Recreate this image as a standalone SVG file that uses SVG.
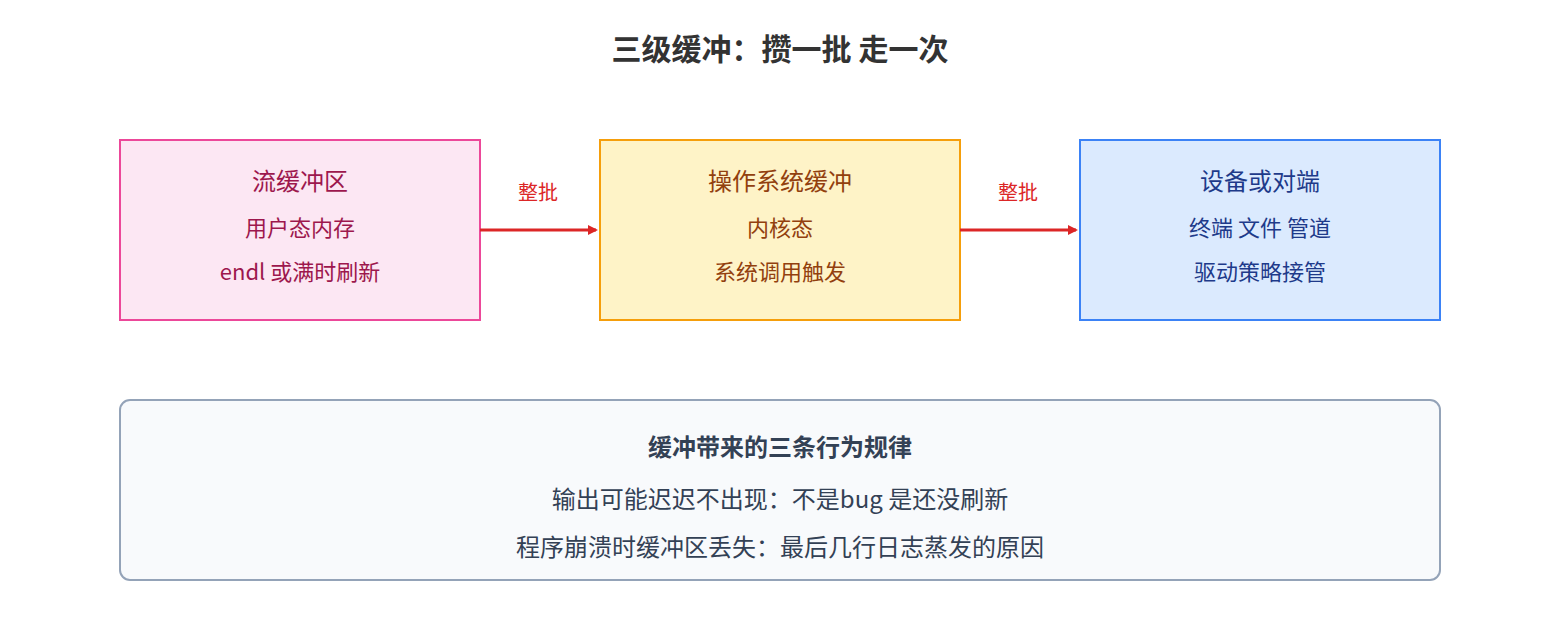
<svg xmlns="http://www.w3.org/2000/svg" width="1560" height="640" viewBox="0 0 1560 640">
<style>
text{font-family:"Noto Sans CJK SC","Noto Sans",sans-serif;text-anchor:middle}
.t{font-size:24px}.s{font-size:22px}.l{font-size:20px;fill:#dc2626}
.p text{fill:#9d174d}.y text{fill:#92400e}.b text{fill:#1e3a8a}
</style>
<defs><marker id="a" markerWidth="10" markerHeight="10" refX="8" refY="5" orient="auto" markerUnits="userSpaceOnUse" viewBox="0 0 10 10"><path d="M0,0L10,5L0,10z" fill="#dc2626"/></marker></defs>
<rect width="1560" height="640" fill="#fff"/>
<text x="780" y="60" font-size="30" font-weight="bold" fill="#333">三级缓冲：攒一批 走一次</text>
<g id="n1" class="p"><rect x="120" y="140" width="360" height="180" fill="#fce7f3" stroke="#ec4899" stroke-width="2"/>
<text x="300" y="190" class="t">流缓冲区</text><text x="300" y="236" class="s">用户态内存</text><text x="300" y="280" class="s">endl 或满时刷新</text></g>
<g id="n2" class="y"><rect x="600" y="140" width="360" height="180" fill="#fef3c7" stroke="#f59e0b" stroke-width="2"/>
<text x="780" y="190" class="t">操作系统缓冲</text><text x="780" y="236" class="s">内核态</text><text x="780" y="280" class="s">系统调用触发</text></g>
<g id="n3" class="b"><rect x="1080" y="140" width="360" height="180" fill="#dbeafe" stroke="#3b82f6" stroke-width="2"/>
<text x="1260" y="190" class="t">设备或对端</text><text x="1260" y="236" class="s">终端 文件 管道</text><text x="1260" y="280" class="s">驱动策略接管</text></g>
<g id="edges" stroke="#dc2626" stroke-width="3">
<line x1="480" y1="230" x2="596" y2="230" marker-end="url(#a)"/>
<line x1="960" y1="230" x2="1076" y2="230" marker-end="url(#a)"/>
</g>
<g id="labels"><text x="538" y="200" class="l">整批</text><text x="1018" y="200" class="l">整批</text></g>
<g id="note"><rect x="120" y="400" width="1320" height="180" rx="10" fill="#f8fafc" stroke="#94a3b8" stroke-width="2"/>
<text x="780" y="456" font-size="24" font-weight="bold" fill="#334155">缓冲带来的三条行为规律</text>
<text x="780" y="508" font-size="24" fill="#334155">输出可能迟迟不出现：不是bug 是还没刷新</text>
<text x="780" y="556" font-size="24" fill="#334155">程序崩溃时缓冲区丢失：最后几行日志蒸发的原因</text></g>
</svg>
